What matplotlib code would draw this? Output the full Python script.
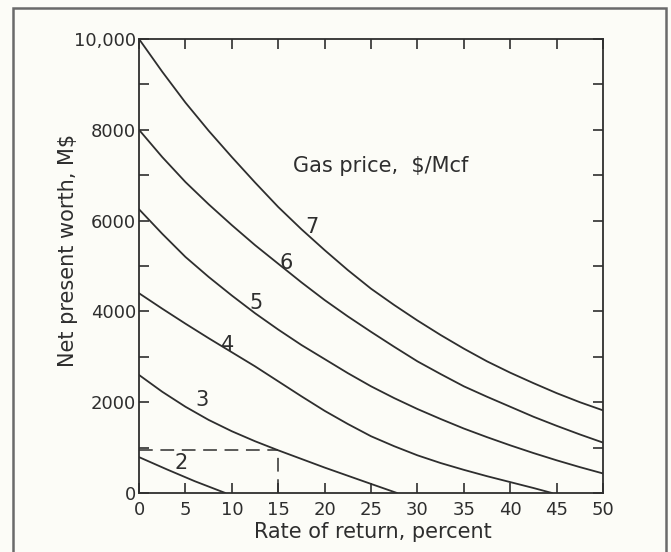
import matplotlib
matplotlib.use("Agg")
import matplotlib.pyplot as plt
from matplotlib.patches import Rectangle

# Rate of return (percent) and net present worth (M$) for each gas price
rate = [0, 2.5, 5, 7.5, 10, 12.5, 15, 17.5, 20, 22.5, 25,
        27.5, 30, 32.5, 35, 37.5, 40, 42.5, 45, 47.5, 50]
npw_7 = [10000, 9280, 8600, 7980, 7400, 6840, 6300, 5810, 5350, 4910, 4500,
         4140, 3800, 3480, 3180, 2900, 2650, 2420, 2200, 2000, 1820]
npw_6 = [8000, 7400, 6850, 6360, 5900, 5460, 5050, 4640, 4250, 3890, 3550,
         3220, 2900, 2620, 2350, 2120, 1900, 1680, 1480, 1290, 1110]
npw_5 = [6250, 5710, 5200, 4760, 4350, 3960, 3600, 3260, 2950, 2640, 2350,
         2090, 1850, 1630, 1420, 1230, 1050, 880, 720, 570, 430]
rate_4 = [0, 2.5, 5, 7.5, 10, 12.5, 15, 17.5, 20, 22.5, 25,
          27.5, 30, 32.5, 35, 37.5, 40, 42.5, 44.5]
npw_4 = [4400, 4060, 3730, 3410, 3100, 2790, 2460, 2130, 1810, 1520, 1250,
         1030, 830, 660, 510, 370, 240, 110, 0]
rate_3 = [0, 2.5, 5, 7.5, 10, 12.5, 15, 17.5, 20, 22.5, 25, 27.8]
npw_3 = [2600, 2230, 1900, 1610, 1360, 1140, 940, 750, 560, 380, 200, 0]
rate_2 = [0, 3, 6, 9.3]
npw_2 = [790, 520, 260, 0]

prices = ["7", "6", "5", "4", "3", "2"]
label_x = [18.6, 15.9, 12.6, 9.5, 6.8, 4.5]
label_y = [5850, 5070, 4180, 3250, 2040, 670]

# Example reading: 15 percent rate of return on the $3 curve
example_rate = 15
example_npw = 950

x_ticks = [0, 5, 10, 15, 20, 25, 30, 35, 40, 45, 50]
y_ticks = [0, 2000, 4000, 6000, 8000, 10000]
y_tick_labels = ["0", "2000", "4000", "6000", "8000", "10,000"]

plt.rcParams["font.family"] = ["DejaVu Sans"]
ink = "#2e2e2e"
paper = "#fcfcf7"

fig = plt.figure(figsize=(6.71, 5.52), dpi=100, facecolor=paper)
ax = fig.add_axes([0.2072, 0.1069, 0.6915, 0.8224], facecolor=paper)

# outer frame around the figure
fig.patches.append(Rectangle((13 / 671, -0.01), (666 - 13) / 671, 1 - 8 / 552 + 0.01,
                             transform=fig.transFigure, fill=False,
                             edgecolor="#6a6a6a", linewidth=1.8))

series = [(rate, npw_7), (rate, npw_6), (rate, npw_5),
          (rate_4, npw_4), (rate_3, npw_3), (rate_2, npw_2)]
for xs, ys in series:
    ax.plot(xs, ys, color=ink, linewidth=1.3, solid_capstyle="round",
            solid_joinstyle="round")

for txt, lx, ly in zip(prices, label_x, label_y):
    ax.text(lx, ly, txt, fontsize=15, color=ink, ha="center", va="center")

ax.plot([0, example_rate], [example_npw, example_npw], color=ink, linewidth=1.1,
        dashes=(9, 5))
ax.plot([example_rate, example_rate], [0, example_npw], color=ink, linewidth=1.1,
        dashes=(9, 5))

ax.text(16.6, 7210, "Gas price,  $/Mcf", fontsize=15, color=ink, ha="left", va="center")

ax.set_xlim(0, 50)
ax.set_ylim(0, 10000)
ax.set_xticks(x_ticks)
ax.set_yticks(y_ticks)
ax.set_yticklabels(y_tick_labels)
ax.set_yticks(range(1000, 10000, 2000), minor=True)
ax.tick_params(axis="both", which="both", direction="in", length=7, width=1.2,
               color=ink, labelcolor=ink, labelsize=13,
               top=True, right=True)
ax.tick_params(axis="x", pad=6)
ax.tick_params(axis="y", pad=2)
for s in ax.spines.values():
    s.set_color(ink)
    s.set_linewidth(1.3)

ax.set_xlabel("Rate of return, percent", fontsize=15, color=ink)
ax.set_ylabel("Net present worth, M$", fontsize=15, color=ink)
ax.xaxis.set_label_coords(0.504, -0.064)
ax.yaxis.set_label_coords(-0.131, 0.535)

fig.savefig("out.png", dpi=100, facecolor=paper)
